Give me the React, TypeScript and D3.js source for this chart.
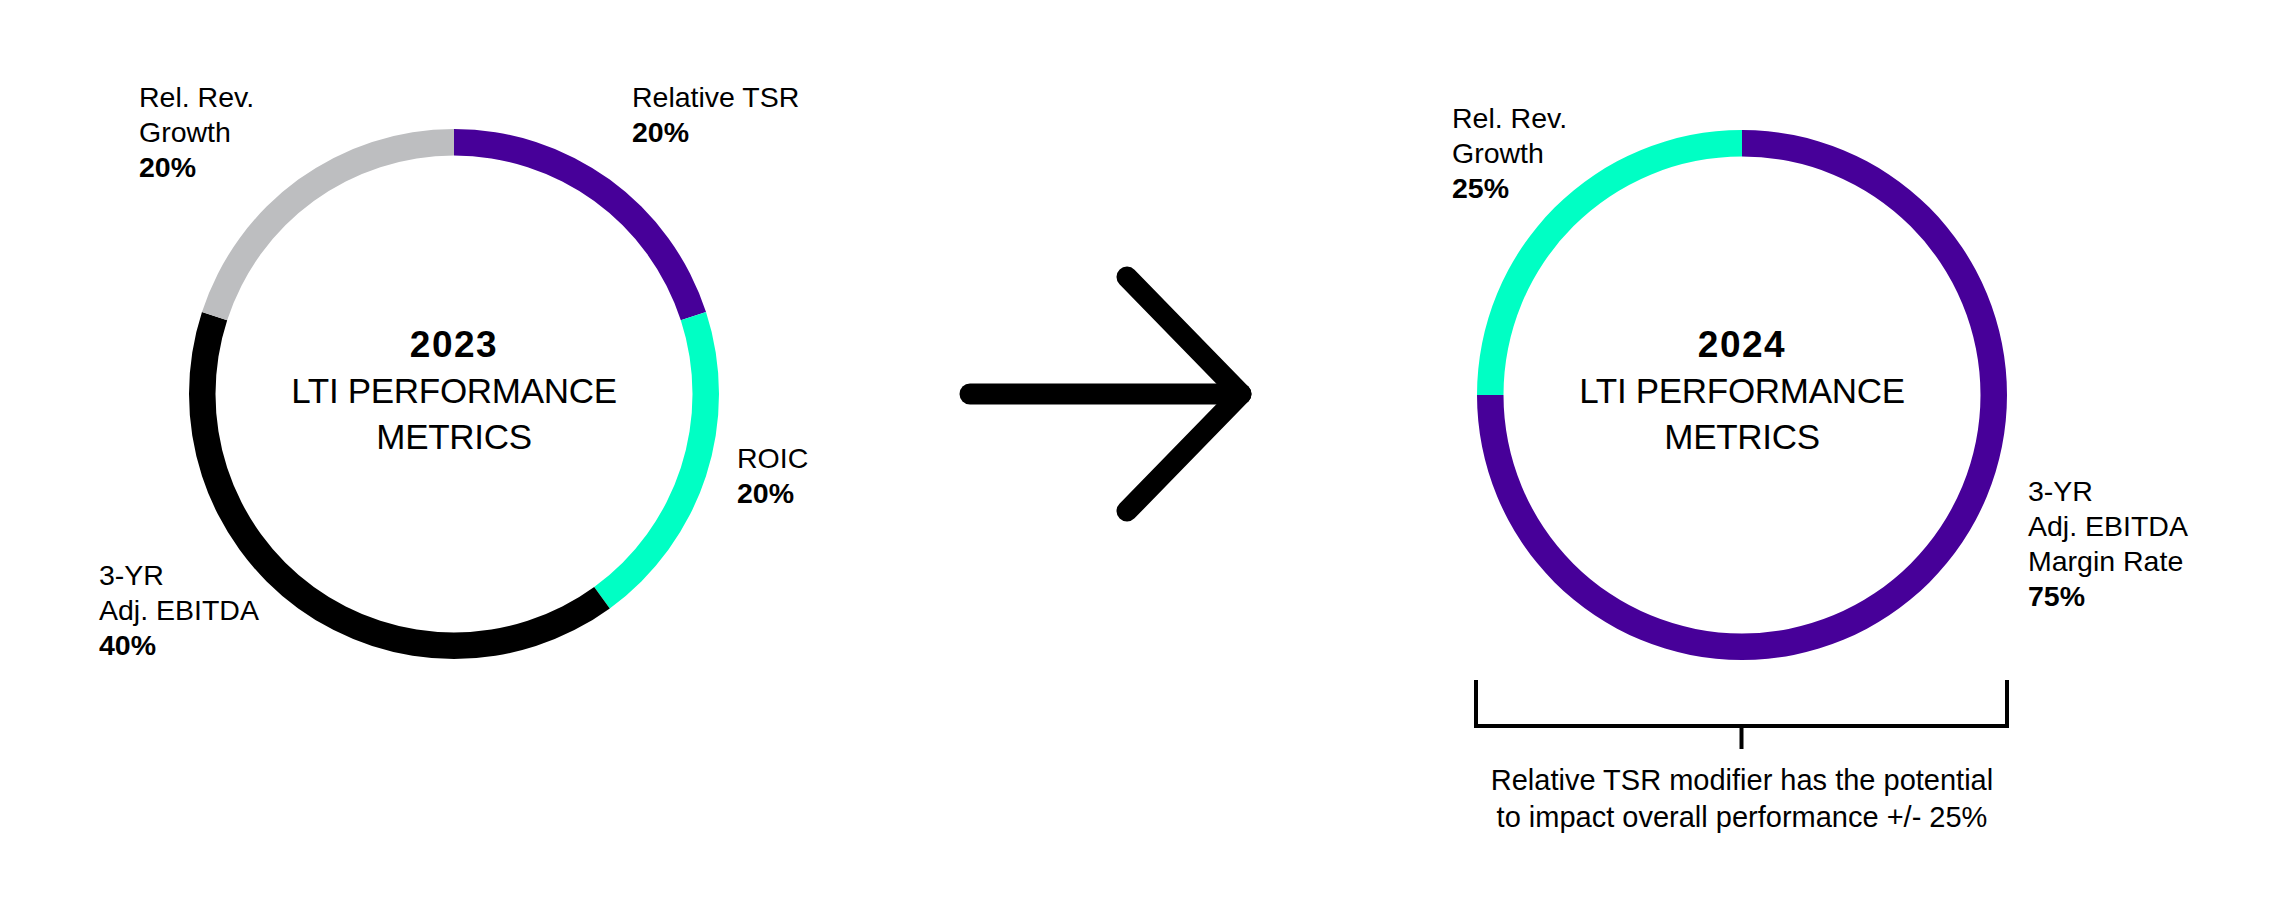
import * as d3 from 'd3'

// 2023 mix
const metrics2023 = ['Relative TSR', 'ROIC', '3-YR Adj. EBITDA', 'Rel. Rev. Growth']
const weights2023 = [20, 20, 40, 20]
const labelLines2023 = [['Relative TSR'], ['ROIC'], ['3-YR', 'Adj. EBITDA'], ['Rel. Rev.', 'Growth']]

// 2024 mix
const metrics2024 = ['3-YR Adj. EBITDA Margin Rate', 'Rel. Rev. Growth']
const weights2024 = [75, 25]
const labelLines2024 = [['3-YR', 'Adj. EBITDA', 'Margin Rate'], ['Rel. Rev.', 'Growth']]

const years = ['2023', '2024']
const centerLines = ['LTI PERFORMANCE', 'METRICS']
const footnote = ['Relative TSR modifier has the potential', 'to impact overall performance +/- 25%']

const colors2023 = ['#470099', '#00ffc4', '#000000', '#bdbec0']
const colors2024 = ['#470099', '#00ffc4']

const W = 2282
const H = 897
const FONT = '"Liberation Sans", Arial, Helvetica, sans-serif'
const OUTER = 265
const INNER = 238.5
const LINE = 35

// label anchors (top line baseline) per slice
const labelPos2023 = [
  { x: 632, y: 107 },
  { x: 737, y: 468 },
  { x: 99, y: 585 },
  { x: 139, y: 107 },
]
const labelPos2024 = [
  { x: 2028, y: 501 },
  { x: 1452, y: 128 },
]

const pie = d3.pie<number>().sort(null).startAngle(0).endAngle(Math.PI * 2)
const arc = d3.arc<d3.PieArcDatum<number>>().innerRadius(INNER).outerRadius(OUTER)

function Donut({ cx, cy, values, colors, names, year }: {
  cx: number; cy: number; values: number[]; colors: string[]; names: string[]; year: string
}) {
  const arcs = pie(values)
  return (
    <g transform={`translate(${cx},${cy})`}>
      {arcs.map((a, i) => (
        <path key={names[i]} d={arc(a) || ''} fill={colors[i]} />
      ))}
      <text x={0} y={357 - cy} textAnchor="middle" fontSize={37} fontWeight="bold" letterSpacing={1.5}>
        {year}
      </text>
      {centerLines.map((t, i) => (
        <text key={t} x={0} y={403 - cy + i * 46} textAnchor="middle" fontSize={35} letterSpacing={-0.3}>
          {t}
        </text>
      ))}
    </g>
  )
}

function Label({ x, y, lines, value }: { x: number; y: number; lines: string[]; value: number }) {
  return (
    <g>
      {lines.map((l, i) => (
        <text key={l} x={x} y={y + i * LINE} fontSize={28.5}>{l}</text>
      ))}
      <text x={x} y={y + lines.length * LINE} fontSize={28.5} fontWeight="bold">{`${value}%`}</text>
    </g>
  )
}

export default function App() {
  const c1 = { x: 454, y: 394 }
  const c2 = { x: 1742, y: 395 }
  const bx0 = 1476
  const bx1 = 2007
  return (
    <svg width={W} height={H} style={{ position: 'absolute', left: 0, top: 0, background: '#fff' }}
      fontFamily={FONT} fill="#000">
      <Donut cx={c1.x} cy={c1.y} values={weights2023} colors={colors2023} names={metrics2023} year={years[0]} />
      <Donut cx={c2.x} cy={c2.y} values={weights2024} colors={colors2024} names={metrics2024} year={years[1]} />

      {weights2023.map((v, i) => (
        <Label key={metrics2023[i]} x={labelPos2023[i].x} y={labelPos2023[i].y} lines={labelLines2023[i]} value={v} />
      ))}
      {weights2024.map((v, i) => (
        <Label key={metrics2024[i]} x={labelPos2024[i].x} y={labelPos2024[i].y} lines={labelLines2024[i]} value={v} />
      ))}

      {/* arrow */}
      <g stroke="#000" strokeWidth={21} strokeLinecap="round" strokeLinejoin="round" fill="none">
        <path d="M970,394 L1241,394" />
        <path d="M1127,277 L1241,394 L1127,511" />
      </g>

      {/* bracket */}
      <g stroke="#000" strokeWidth={4} fill="none">
        <path d={`M${bx0},680 L${bx0},726 L${bx1},726 L${bx1},680`} />
        <path d={`M${(bx0 + bx1) / 2},726 L${(bx0 + bx1) / 2},749`} />
      </g>
      {footnote.map((t, i) => (
        <text key={t} x={c2.x} y={790 + i * 37} textAnchor="middle" fontSize={29}>{t}</text>
      ))}
    </svg>
  )
}
